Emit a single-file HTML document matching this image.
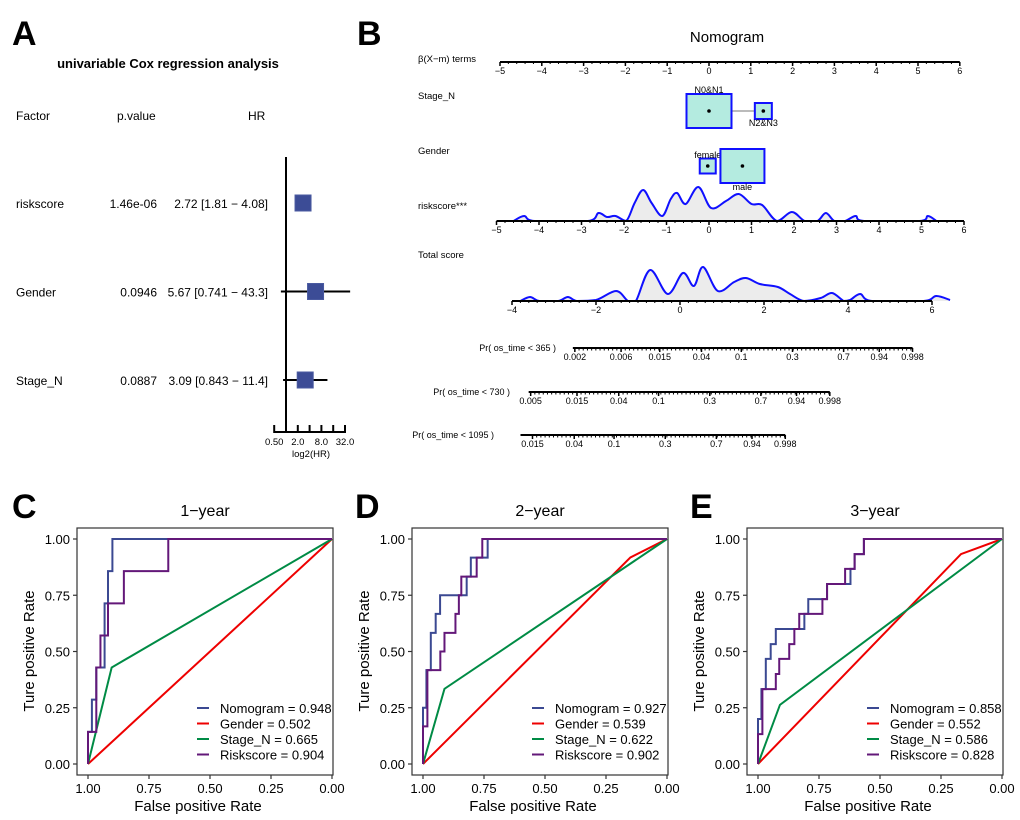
<!DOCTYPE html>
<html><head><meta charset="utf-8"><style>
html,body{margin:0;padding:0;background:#fff;}
svg{display:block;font-family:"Liberation Sans",Arial,sans-serif;}
</style></head><body>
<svg id="fig" width="1020" height="820" viewBox="0 0 1020 820" xmlns="http://www.w3.org/2000/svg"></svg>
<script>
// ---------- Panel A data ----------
const forestFactors = ['riskscore','Gender','Stage_N'];
const forestP = ['1.46e-06','0.0946','0.0887'];
const forestHR = [2.72, 5.67, 3.09];
const forestLo = [1.81, 0.741, 0.843];
const forestHi = [4.08, 43.3, 11.4];
const hrTicks = [0.5, 1, 2, 4, 8, 16, 32];
const hrTickLabels = ['0.50', '', '2.0', '', '8.0', '', '32.0'];
// ---------- Panel B data ----------
const betaTicks = [-5,-4,-3,-2,-1,0,1,2,3,4,5,6];
const stageLevels = ['N0&N1','N2&N3'];
const stageBeta = [0, 1.3];
const stageFreq = [1, 0.38];
const genderLevels = ['female','male'];
const genderBeta = [-0.03, 0.8];
const genderFreq = [0.36, 1];
const riskX = [-4.6,-4.35,-4.1,-2.85,-2.6,-2.4,-2.2,-1.95,-1.75,-1.55,-1.35,-1.1,-0.9,-0.75,-0.55,-0.25,0.05,0.4,0.7,1.0,1.25,1.6,1.95,2.25,2.55,2.75,2.95,3.2,3.45,3.65,4.95,5.15,5.35];
const riskD = [0,5,0,0,8,4,5,0,18,31,18,5,22,28,17,34,13,20,27,17,16,0,9,0,0,8,0,0,5,0,0,5,0];
const totalTicks = [-4,-2,0,2,4,6];
const totalX = [-3.8,-3.57,-3.35,-2.9,-2.67,-2.45,-2.0,-1.52,-1.24,-1.05,-0.71,-0.29,0.07,0.33,0.55,0.9,1.29,1.57,1.9,2.33,2.62,2.95,3.35,3.62,3.9,4.05,4.29,4.57,5.8,6.1,6.43];
const totalD = [0,4,0,0,4,0,1,10,0,0,31,7,28,15,34,10,19,23,17,14,7,0,3,8,0,1,7,0,0,5,1];
const probTimes = ['365','730','1095'];
const probOffsets = [-3.71, -1.74, -0.68];
const probLabels365 = [0.002,0.006,0.015,0.04,0.1,0.3,0.7,0.94,0.998];
const probLabels730 = [0.005,0.015,0.04,0.1,0.3,0.7,0.94,0.998];
const probLabels1095 = [0.015,0.04,0.1,0.3,0.7,0.94,0.998];
// ---------- ROC data ----------
const rocTicks = [0, 0.25, 0.5, 0.75, 1];
const rocTickLabels = ['0.00','0.25','0.50','0.75','1.00'];
const rocTitles = ['1\u2212year','2\u2212year','3\u2212year'];
const rocLetters = ['C','D','E'];
const rocNames = ['Nomogram','Gender','Stage_N','Riskscore'];
const aucC = ['0.948','0.502','0.665','0.904'];
const aucD = ['0.927','0.539','0.622','0.902'];
const aucE = ['0.858','0.552','0.586','0.828'];
const c_nomo_x = [1,1,.984,.984,.966,.966,.932,.932,.918,.918,.9,.9,0];
const c_nomo_y = [0,.143,.143,.286,.286,.429,.429,.714,.714,.857,.857,1,1];
const c_gender_x = [1,0];
const c_gender_y = [0,1];
const c_stage_x = [1,.903,0];
const c_stage_y = [0,.429,1];
const c_risk_x = [1,1,.966,.966,.949,.949,.918,.918,.853,.853,.671,.671,0];
const c_risk_y = [0,.143,.143,.429,.429,.571,.571,.714,.714,.857,.857,1,1];
const d_nomo_x = [1,1,.986,.986,.968,.968,.948,.948,.93,.93,.821,.821,.804,.804,.735,.735,0];
const d_nomo_y = [0,.25,.25,.417,.417,.583,.583,.667,.667,.75,.75,.833,.833,.917,.917,1,1];
const d_gender_x = [1,.15,0];
const d_gender_y = [0,.918,1];
const d_stage_x = [1,.912,0];
const d_stage_y = [0,.334,1];
const d_risk_x = [1,1,.982,.982,.929,.929,.912,.912,.867,.867,.853,.853,.843,.843,.78,.78,.757,.757,0];
const d_risk_y = [0,.167,.167,.417,.417,.5,.5,.583,.583,.667,.667,.75,.75,.833,.833,.917,.917,1,1];
const e_nomo_x = [1,1,.986,.986,.968,.968,.948,.948,.927,.927,.81,.81,.794,.794,.717,.717,.621,.621,.604,.604,.566,.566,0];
const e_nomo_y = [0,.2,.2,.333,.333,.467,.467,.533,.533,.6,.6,.667,.667,.733,.733,.8,.8,.867,.867,.933,.933,1,1];
const e_gender_x = [1,.168,0];
const e_gender_y = [0,.933,1];
const e_stage_x = [1,.91,0];
const e_stage_y = [0,.263,1];
const e_risk_x = [1,1,.982,.982,.927,.927,.913,.913,.872,.872,.851,.851,.831,.831,.736,.736,.717,.717,.643,.643,.604,.604,.566,.566,0];
const e_risk_y = [0,.133,.133,.333,.333,.4,.4,.467,.467,.533,.533,.6,.6,.667,.667,.733,.733,.8,.8,.867,.867,.933,.933,1,1];
const rocColors = ['#3B4992','#EE0000','#008B45','#631879'];

const svg = document.getElementById('fig');
const NS = 'http://www.w3.org/2000/svg';
function mk(tag, attrs, parent) {
  const el = document.createElementNS(NS, tag);
  for (const k in attrs) el.setAttribute(k, attrs[k]);
  (parent || svg).appendChild(el);
  return el;
}
function tx(x, y, s, size, anchor, weight, parent) {
  const el = mk('text', {x: x, y: y, 'font-size': size, 'text-anchor': anchor || 'start', 'font-weight': weight || 'normal', fill: '#000'}, parent);
  el.textContent = s;
  return el;
}
function line(x1, y1, x2, y2, w, col, parent) {
  return mk('line', {x1: x1, y1: y1, x2: x2, y2: y2, stroke: col || '#000', 'stroke-width': w || 1}, parent);
}

// ================= Panel A =================
const gA = mk('g', {});


let t = tx(12, 45, 'A', 34, 'start', 'bold', gA);


t = tx(168, 68, 'univariable  Cox regression analysis', 13, 'middle', 'bold', gA);


t = tx(16, 120, 'Factor', 12, 'start', 'normal', gA);


t = tx(117, 120, 'p.value', 12, 'start', 'normal', gA);


t = tx(248, 120, 'HR', 12, 'start', 'normal', gA);


const xA = v => 286 + 11.8 * Math.log2(v);
const rowA = i => 203 + i * 88.5;
let l = line(xA(1), 157, xA(1), 432, 2, '#000', gA);


l = line(xA(hrTicks[0]), 432, xA(hrTicks[hrTicks.length - 1]), 432, 2, '#000', gA);


hrTicks.forEach((v, i) => {
  const tk = line(xA(v), 425, xA(v), 433, 2, '#000', gA);
  
  
  if (hrTickLabels[i]) {
    const lb = tx(xA(v), 445, hrTickLabels[i], 9.5, 'middle', 'normal', gA);
    
    
  }
});
t = tx(311, 457, 'log2(HR)', 9.5, 'middle', 'normal', gA);


forestFactors.forEach((f, i) => {
  const y = rowA(i);
  const a = tx(16, y + 5, f, 12, 'start', 'normal', gA);
  
  
  const b = tx(157, y + 5, forestP[i], 12, 'end', 'normal', gA);
  
  
  const c = tx(268, y + 5, forestHR[i] + ' [' + forestLo[i] + ' \u2212 ' + forestHi[i] + ']', 12, 'end', 'normal', gA);
  
  
  const ci = line(xA(forestLo[i]), y, xA(forestHi[i]), y, 2, '#000', gA);
  
  
  const sq = mk('rect', {x: xA(forestHR[i]) - 8, y: y - 8, width: 16, height: 16, fill: '#3C4C96', stroke: '#4a5aa0'}, gA);
  
  
});

// ================= Panel B =================
const gB = mk('g', {});


t = tx(357, 45, 'B', 34, 'start', 'bold', gB);


t = tx(727, 42, 'Nomogram', 15, 'middle', 'normal', gB);


const rowNames = [['\u03b2(X\u2212m) terms', 62], ['Stage_N', 99], ['Gender', 154], ['riskscore***', 209], ['Total score', 258]];
rowNames.forEach(r => {
  const e = tx(418, r[1], r[0], 9.5, 'start', 'normal', gB);
  
  
});
function axis(x0, x1, y, ticks, minorStep, sc, g, name, fs) {
  const ax = line(x0, y, x1, y, 2, '#000', g);
  
  
  const lo = ticks[0], hi = ticks[ticks.length - 1];
  for (let v = lo; v <= hi + 1e-9; v += minorStep) {
    const m = line(sc(v), y, sc(v), y + 2, 1, '#000', g);
    
    
  }
  ticks.forEach(v => {
    const k = line(sc(v), y, sc(v), y + 4, 1.5, '#000', g);
    
    
    const lb = tx(sc(v), y + 12, String(v).replace('-', '\u2212'), fs || 9, 'middle', 'normal', g);
    
    
  });
}
const xBeta = v => 709 + 41.8 * v;
axis(xBeta(-5), xBeta(6), 62, betaTicks, 0.2, xBeta, gB, 'beta-axis');
// Stage_N
const stY = 111;
l = line(xBeta(stageBeta[0]), stY, xBeta(stageBeta[1]), stY, 2, '#bbb', gB);


stageLevels.forEach((s, i) => {
  const sz = i ? 17 : 45;
  const r = mk('rect', {x: xBeta(stageBeta[i]) - sz / 2, y: stY - (i ? 8 : 17), width: sz, height: i ? 16 : 34, fill: '#B4EBE0', stroke: '#1010ff', 'stroke-width': 2}, gB);
  
  
  const d = mk('circle', {cx: xBeta(stageBeta[i]), cy: stY, r: 1.8, fill: '#000'}, gB);
  
  
  const lb = tx(xBeta(stageBeta[i]), i ? 126 : 93, s, 9, 'middle', 'normal', gB);
  
  
});
// Gender
const gY = 166;
genderLevels.forEach((s, i) => {
  const w = i ? 44 : 16, h = i ? 34 : 15;
  const r = mk('rect', {x: xBeta(genderBeta[i]) - w / 2, y: gY - h / 2, width: w, height: h, fill: '#B4EBE0', stroke: '#1010ff', 'stroke-width': 2}, gB);
  
  
  const d = mk('circle', {cx: xBeta(genderBeta[i]), cy: gY, r: 1.8, fill: '#000'}, gB);
  
  
  const lb = tx(xBeta(genderBeta[i]), i ? 190 : 158, s, 9, 'middle', 'normal', gB);
  
  
});
// density helper (Catmull-Rom smoothing)
function density(xs, ds, sc, base, g, name) {
  const pts = xs.map((v, i) => [sc(v), base - ds[i]]);
  let d = 'M' + pts[0][0] + ',' + pts[0][1];
  for (let i = 0; i < pts.length - 1; i++) {
    const p0 = pts[Math.max(0, i - 1)], p1 = pts[i], p2 = pts[i + 1], p3 = pts[Math.min(pts.length - 1, i + 2)];
    const c1x = p1[0] + (p2[0] - p0[0]) / 6, c1y = Math.min(base, p1[1] + (p2[1] - p0[1]) / 6);
    const c2x = p2[0] - (p3[0] - p1[0]) / 6, c2y = Math.min(base, p2[1] - (p3[1] - p1[1]) / 6);
    d += ' C' + c1x + ',' + c1y + ' ' + c2x + ',' + c2y + ' ' + p2[0] + ',' + p2[1];
  }
  const f = mk('path', {d: d + ' L' + pts[pts.length - 1][0] + ',' + base + ' L' + pts[0][0] + ',' + base + 'Z', fill: '#ececec', stroke: 'none'}, g);
  
  
  const s = mk('path', {d: d, fill: 'none', stroke: '#1010ff', 'stroke-width': 2}, g);
  
  
}
const xRisk = v => 709 + 42.5 * v;
density(riskX, riskD, xRisk, 221, gB, 'riskscore-density');
axis(xRisk(-5), xRisk(6), 221, betaTicks, 0.2, xRisk, gB, 'riskscore-axis');
const xTot = v => 512 + 42 * (v + 4);
density(totalX, totalD, xTot, 301, gB, 'total-score-density');
axis(xTot(-4), xTot(6), 301, totalTicks, 0.2, xTot, gB, 'total-score-axis');
// probability axes
const cll = p => Math.log(-Math.log(1 - p));
const probLabelSets = [probLabels365, probLabels730, probLabels1095];
const probY = [348, 392, 435];
const probLabelEnd = [556, 510, 494];
probTimes.forEach((tm, k) => {
  const off = probOffsets[k];
  const px = p => xTot(cll(p) - off);
  const labs = probLabelSets[k];
  const y = probY[k];
  const lb = tx(probLabelEnd[k], y + 3, 'Pr( os_time < ' + tm + ' )', 9, 'end', 'normal', gB);
  
  
  const p0 = labs[0], p1 = labs[labs.length - 1];
  const a = line(px(p0) - (k === 2 ? 12 : 2), y, px(p1), y, 2, '#000', gB);
  
  
  for (let v = cll(p0); v <= cll(p1) + 1e-9; v += 0.1) {
    const m = line(xTot(v - off), y, xTot(v - off), y + 2.5, 1, '#000', gB);
    
    
  }
  labs.forEach(p => {
    const k2 = line(px(p), y, px(p), y + 4, 1.5, '#000', gB);
    
    
    const tl = tx(px(p), y + 12, String(p), 9, 'middle', 'normal', gB);
    
    
  });
});

// ================= ROC panels =================
const rocSets = [
  [aucC, [c_nomo_x, c_nomo_y], [c_gender_x, c_gender_y], [c_stage_x, c_stage_y], [c_risk_x, c_risk_y]],
  [aucD, [d_nomo_x, d_nomo_y], [d_gender_x, d_gender_y], [d_stage_x, d_stage_y], [d_risk_x, d_risk_y]],
  [aucE, [e_nomo_x, e_nomo_y], [e_gender_x, e_gender_y], [e_stage_x, e_stage_y], [e_risk_x, e_risk_y]]
];
const rocX1 = [88, 423, 758];
const rocLetterX = [12, 355, 690];
rocSets.forEach((set, p) => {
  const g = mk('g', {});
  
  
  const x1 = rocX1[p];
  const xs = v => x1 + (1 - v) * 244;
  const ys = v => 764 - v * 225;
  let e = tx(rocLetterX[p], 518, rocLetters[p], 34, 'start', 'bold', g);
  
  
  e = tx(x1 + 117, 516, rocTitles[p], 16, 'middle', 'normal', g);
  
  
  const bx = mk('rect', {x: x1 - 11, y: 528, width: 256, height: 247, fill: 'none', stroke: '#333', 'stroke-width': 1.2}, g);
  
  
  rocTicks.forEach((v, i) => {
    const a = line(x1 - 15, ys(v), x1 - 11, ys(v), 1.2, '#333', g);
    
    
    const b = tx(x1 - 18, ys(v) + 5, rocTickLabels[i], 13, 'end', 'normal', g);
    
    
    const c = line(xs(v), 775, xs(v), 779, 1.2, '#333', g);
    
    
    const d = tx(xs(v), 793, rocTickLabels[i], 13, 'middle', 'normal', g);
    
    
  });
  e = tx(x1 + 110, 811, 'False positive Rate', 15, 'middle', 'normal', g);
  
  
  const yx = x1 - 54, yy = 651;
  e = tx(yx, yy, 'Ture positive Rate', 15, 'middle', 'normal', g);
  e.setAttribute('transform', 'rotate(-90 ' + yx + ' ' + yy + ')');
  
  
  const order = [1, 2, 0, 3];
  order.forEach(s => {
    const xsD = set[s + 1][0], ysD = set[s + 1][1];
    const pts = xsD.map((v, i) => xs(v) + ',' + ys(ysD[i])).join(' ');
    const pl = mk('polyline', {points: pts, fill: 'none', stroke: rocColors[s], 'stroke-width': 2}, g);
    
    
  });
  rocNames.forEach((n, s) => {
    const y = 708 + s * 15.5;
    const a = line(x1 + 109, y, x1 + 121, y, 2, rocColors[s], g);
    
    
    const b = tx(x1 + 132, y + 5, n + ' = ' + set[0][s], 13, 'start', 'normal', g);
    
    
  });
});
</script>
</body></html>
